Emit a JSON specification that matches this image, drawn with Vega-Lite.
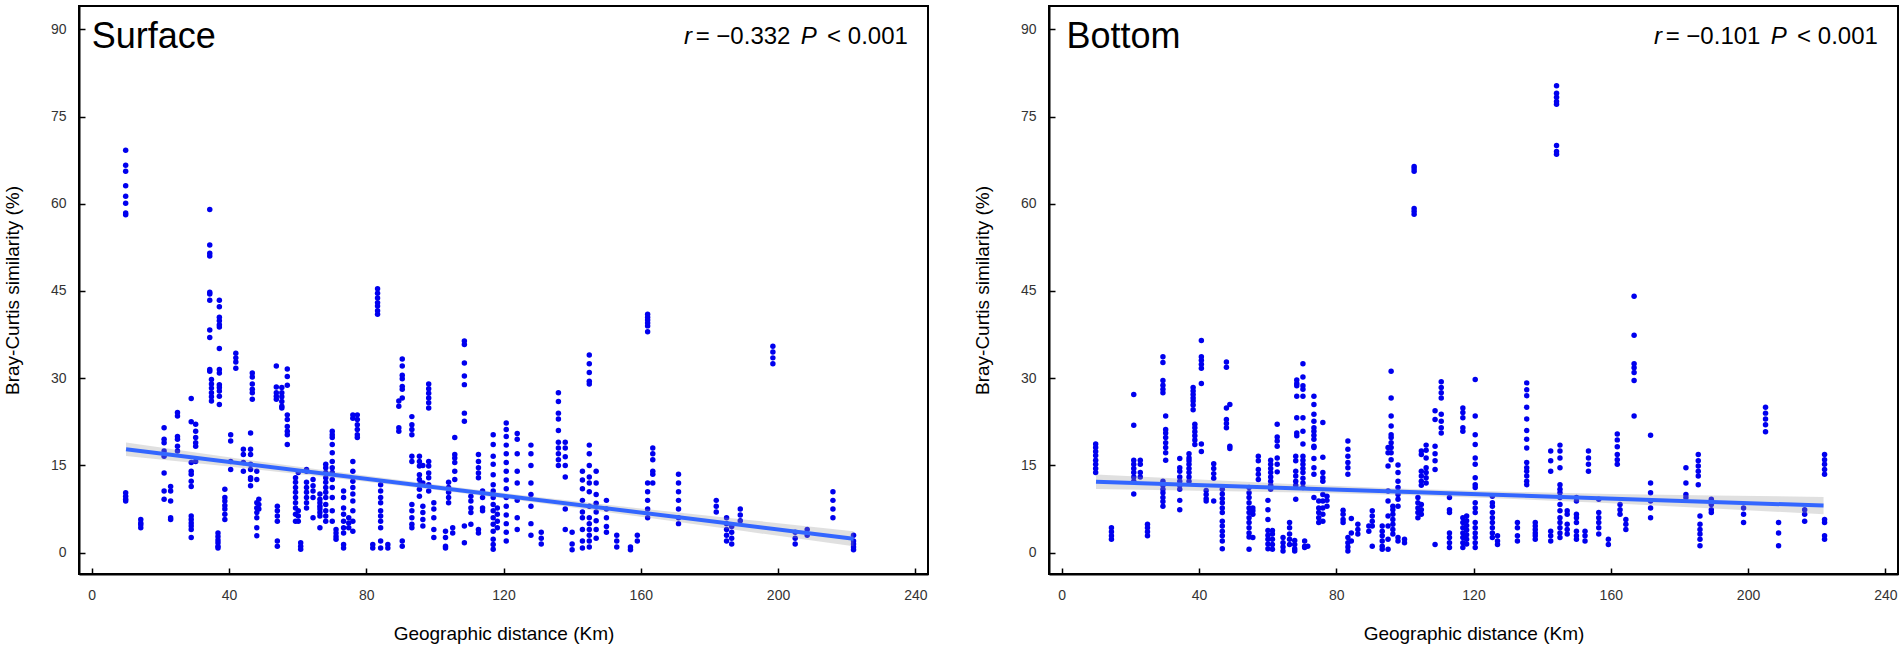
{
"$schema": "https://vega.github.io/schema/vega-lite/v6.json",
"padding": {"left": 2, "top": 5, "right": 5, "bottom": 0},
"spacing": 43,
"config": {
  "font": "Liberation Sans",
  "view": {"stroke": "black", "strokeWidth": 2},
  "axis": {"grid": false, "domainColor": "black", "domainWidth": 2, "tickColor": "black", "tickWidth": 1.5, "tickSize": -6, "labelFontSize": 14, "labelColor": "#333333", "labelFont": "Liberation Sans", "titleFont": "Liberation Sans", "titleFontSize": 19, "titleFontWeight": "normal", "titleColor": "black"},
  "axisX": {"labelPadding": 20, "titlePadding": 22},
  "axisY": {"labelPadding": 19, "titlePadding": 28}
},
"datasets": {
"surface": [
{"km":9.9,"sim":69.2},{"km":9.9,"sim":66.6},{"km":9.9,"sim":65.6},{"km":9.9,"sim":63.1},{"km":9.9,"sim":61.3},{"km":9.9,"sim":60.1},{"km":9.9,"sim":58.4},{"km":9.9,"sim":58.1},{"km":9.9,"sim":10.3},{"km":9.9,"sim":9.7},{"km":9.9,"sim":9.2},{"km":9.9,"sim":8.9},
{"km":14.3,"sim":5.7},{"km":14.3,"sim":5.1},{"km":14.3,"sim":4.8},{"km":14.3,"sim":4.3},
{"km":21.1,"sim":21.5},{"km":21.1,"sim":19.5},{"km":21.1,"sim":18.9},{"km":21.1,"sim":17.5},{"km":21.1,"sim":16.6},{"km":21.1,"sim":13.7},{"km":21.1,"sim":10.6},{"km":21.1,"sim":9.2},
{"km":23,"sim":11.4},{"km":23,"sim":10.6},{"km":23,"sim":8.9},{"km":23,"sim":6.0},{"km":23,"sim":5.7},
{"km":25,"sim":24.1},{"km":25,"sim":23.5},{"km":25,"sim":20.0},{"km":25,"sim":19.5},{"km":25,"sim":18.3},{"km":25,"sim":17.5},
{"km":29,"sim":26.5},{"km":29,"sim":22.5},{"km":29,"sim":15.5},{"km":29,"sim":14.0},{"km":29,"sim":13.5},{"km":29,"sim":12.3},{"km":29,"sim":11.4},{"km":29,"sim":6.3},{"km":29,"sim":5.7},{"km":29,"sim":5.1},{"km":29,"sim":4.6},{"km":29,"sim":4.0},{"km":29,"sim":2.6},
{"km":30.3,"sim":22.1},{"km":30.3,"sim":20.9},{"km":30.3,"sim":19.8},{"km":30.3,"sim":18.9},{"km":30.3,"sim":18.3},{"km":30.3,"sim":15.7},
{"km":34.4,"sim":59.0},{"km":34.4,"sim":52.9},{"km":34.4,"sim":51.5},{"km":34.4,"sim":51.0},{"km":34.4,"sim":44.8},{"km":34.4,"sim":44.5},{"km":34.4,"sim":43.4},{"km":34.4,"sim":38.3},{"km":34.4,"sim":37.0},{"km":34.4,"sim":31.5},{"km":34.4,"sim":31.2},
{"km":34.9,"sim":29.8},{"km":34.9,"sim":29.0},{"km":34.9,"sim":28.3},{"km":34.9,"sim":27.5},{"km":34.9,"sim":26.8},{"km":34.9,"sim":26.1},
{"km":36.8,"sim":3.4},{"km":36.8,"sim":2.8},{"km":36.8,"sim":2.2},{"km":36.8,"sim":1.7},{"km":36.8,"sim":1.1},{"km":36.8,"sim":0.8},
{"km":37.2,"sim":43.4},{"km":37.2,"sim":42.3},{"km":37.2,"sim":40.5},{"km":37.2,"sim":39.9},{"km":37.2,"sim":39.2},{"km":37.2,"sim":38.8},{"km":37.2,"sim":35.1},{"km":37.2,"sim":31.5},{"km":37.2,"sim":30.9},{"km":37.2,"sim":28.9},{"km":37.2,"sim":28.4},{"km":37.2,"sim":27.8},{"km":37.2,"sim":26.9},{"km":37.2,"sim":25.5},
{"km":38.8,"sim":10.9},{"km":38.8,"sim":9.5},{"km":38.8,"sim":8.9},{"km":38.8,"sim":8.1},{"km":38.8,"sim":7.5},{"km":38.8,"sim":6.6},{"km":38.8,"sim":5.7},
{"km":40.5,"sim":20.3},{"km":40.5,"sim":19.2},{"km":40.5,"sim":15.7},{"km":40.5,"sim":14.3},
{"km":42.0,"sim":34.3},{"km":42.0,"sim":33.5},{"km":42.0,"sim":32.8},{"km":42.0,"sim":31.7},
{"km":44.2,"sim":17.8},{"km":44.2,"sim":16.9},{"km":44.2,"sim":15.5},{"km":44.2,"sim":14.0},
{"km":46.3,"sim":20.6},{"km":46.3,"sim":17.8},{"km":46.3,"sim":16.9},{"km":46.3,"sim":15.2},{"km":46.3,"sim":14.3},{"km":46.3,"sim":12.9},{"km":46.3,"sim":12.6},{"km":46.3,"sim":11.5},
{"km":46.8,"sim":30.9},{"km":46.8,"sim":30.2},{"km":46.8,"sim":29.0},{"km":46.8,"sim":28.1},{"km":46.8,"sim":27.5},{"km":46.8,"sim":26.4},
{"km":48.1,"sim":14.0},{"km":48.1,"sim":12.6},{"km":48.1,"sim":8.6},{"km":48.1,"sim":7.7},{"km":48.1,"sim":6.9},{"km":48.1,"sim":6.0},{"km":48.1,"sim":4.3},{"km":48.1,"sim":2.9},
{"km":48.7,"sim":9.2},{"km":48.7,"sim":8.3},{"km":48.7,"sim":7.5},
{"km":53.8,"sim":32.1},{"km":53.8,"sim":28.5},{"km":53.8,"sim":27.5},{"km":53.8,"sim":26.9},{"km":53.8,"sim":26.4},
{"km":54.1,"sim":8.0},{"km":54.1,"sim":7.2},{"km":54.1,"sim":6.3},{"km":54.1,"sim":5.4},{"km":54.1,"sim":2.0},{"km":54.1,"sim":1.1},
{"km":55.4,"sim":28.4},{"km":55.4,"sim":27.5},{"km":55.4,"sim":26.8},{"km":55.4,"sim":26.0},{"km":55.4,"sim":25.2},{"km":55.4,"sim":24.9},
{"km":57.0,"sim":31.6},{"km":57.0,"sim":30.3},{"km":57.0,"sim":28.8},{"km":57.0,"sim":23.7},{"km":57.0,"sim":22.9},{"km":57.0,"sim":21.7},{"km":57.0,"sim":20.9},{"km":57.0,"sim":20.3},{"km":57.0,"sim":18.6},
{"km":59.4,"sim":12.9},{"km":59.4,"sim":12.1},{"km":59.4,"sim":11.2},{"km":59.4,"sim":10.4},{"km":59.4,"sim":9.5},{"km":59.4,"sim":8.6},{"km":59.4,"sim":7.7},{"km":59.4,"sim":6.6},{"km":59.4,"sim":5.4},
{"km":60.2,"sim":13.8},{"km":60.2,"sim":7.2},{"km":60.2,"sim":6.3},{"km":60.2,"sim":5.4},
{"km":60.9,"sim":1.7},{"km":60.9,"sim":1.1},{"km":60.9,"sim":0.6},
{"km":62.6,"sim":14.3},{"km":62.6,"sim":14.0},{"km":62.6,"sim":12.1},{"km":62.6,"sim":11.2},{"km":62.6,"sim":10.4},{"km":62.6,"sim":9.5},{"km":62.6,"sim":8.6},{"km":62.6,"sim":7.7},
{"km":64.5,"sim":12.6},{"km":64.5,"sim":11.5},{"km":64.5,"sim":10.6},{"km":64.5,"sim":9.5},{"km":64.5,"sim":6.0},
{"km":66.5,"sim":10.1},{"km":66.5,"sim":9.2},{"km":66.5,"sim":8.6},{"km":66.5,"sim":8.0},{"km":66.5,"sim":7.5},{"km":66.5,"sim":6.9},{"km":66.5,"sim":6.3},{"km":66.5,"sim":4.3},
{"km":68.2,"sim":15.2},{"km":68.2,"sim":14.6},{"km":68.2,"sim":13.8},{"km":68.2,"sim":12.9},{"km":68.2,"sim":12.1},{"km":68.2,"sim":11.2},{"km":68.2,"sim":10.4},{"km":68.2,"sim":9.5},{"km":68.2,"sim":8.3},{"km":68.2,"sim":7.2},{"km":68.2,"sim":6.3},{"km":68.2,"sim":5.4},
{"km":70.1,"sim":20.9},{"km":70.1,"sim":20.3},{"km":70.1,"sim":19.8},{"km":70.1,"sim":18.6},{"km":70.1,"sim":17.2},{"km":70.1,"sim":15.7},{"km":70.1,"sim":14.6},{"km":70.1,"sim":13.8},{"km":70.1,"sim":12.6},{"km":70.1,"sim":11.2},{"km":70.1,"sim":9.5},{"km":70.1,"sim":7.2},{"km":70.1,"sim":5.4},
{"km":71.2,"sim":4.0},{"km":71.2,"sim":3.4},{"km":71.2,"sim":2.8},{"km":71.2,"sim":2.3},
{"km":73.4,"sim":10.6},{"km":73.4,"sim":9.5},{"km":73.4,"sim":7.7},{"km":73.4,"sim":6.6},{"km":73.4,"sim":5.4},{"km":73.4,"sim":4.3},{"km":73.4,"sim":3.4},{"km":73.4,"sim":1.4},{"km":73.4,"sim":0.8},
{"km":74.9,"sim":6.0},{"km":74.9,"sim":5.1},{"km":74.9,"sim":4.3},
{"km":76.1,"sim":23.7},{"km":76.1,"sim":23.1},{"km":76.1,"sim":15.7},{"km":76.1,"sim":14.0},{"km":76.1,"sim":12.3},{"km":76.1,"sim":11.2},{"km":76.1,"sim":10.1},{"km":76.1,"sim":8.9},{"km":76.1,"sim":7.2},{"km":76.1,"sim":5.4},{"km":76.1,"sim":3.7},
{"km":77.4,"sim":23.7},{"km":77.4,"sim":22.9},{"km":77.4,"sim":22.0},{"km":77.4,"sim":21.2},{"km":77.4,"sim":20.3},{"km":77.4,"sim":19.8},
{"km":81.9,"sim":1.4},{"km":81.9,"sim":0.8},
{"km":83.3,"sim":45.4},{"km":83.3,"sim":44.6},{"km":83.3,"sim":43.8},{"km":83.3,"sim":43.0},{"km":83.3,"sim":42.4},{"km":83.3,"sim":41.6},{"km":83.3,"sim":41.0},
{"km":84.2,"sim":11.7},{"km":84.2,"sim":10.6},{"km":84.2,"sim":9.5},{"km":84.2,"sim":8.6},{"km":84.2,"sim":7.2},{"km":84.2,"sim":6.3},{"km":84.2,"sim":5.4},{"km":84.2,"sim":4.3},{"km":84.2,"sim":2.0},{"km":84.2,"sim":0.8},
{"km":86.3,"sim":1.4},{"km":86.3,"sim":0.8},
{"km":89.5,"sim":26.1},{"km":89.5,"sim":25.2},{"km":89.5,"sim":21.5},{"km":89.5,"sim":20.9},
{"km":90.5,"sim":33.3},{"km":90.5,"sim":32.1},{"km":90.5,"sim":30.5},{"km":90.5,"sim":29.9},{"km":90.5,"sim":28.6},{"km":90.5,"sim":28.1},{"km":90.5,"sim":26.6},{"km":90.5,"sim":2.0},{"km":90.5,"sim":1.1},
{"km":93.3,"sim":23.4},{"km":93.3,"sim":22.0},{"km":93.3,"sim":21.2},{"km":93.3,"sim":20.3},{"km":93.3,"sim":16.6},{"km":93.3,"sim":15.7},{"km":93.3,"sim":8.3},{"km":93.3,"sim":7.2},{"km":93.3,"sim":6.0},{"km":93.3,"sim":4.9},{"km":93.3,"sim":4.3},
{"km":95.5,"sim":16.6},{"km":95.5,"sim":15.7},{"km":95.5,"sim":14.9},{"km":95.5,"sim":13.4},{"km":95.5,"sim":12.6},{"km":95.5,"sim":11.7},{"km":95.5,"sim":10.9},{"km":95.5,"sim":9.7},
{"km":96.5,"sim":15.0},{"km":96.5,"sim":12.0},{"km":96.5,"sim":8.0},{"km":96.5,"sim":6.9},{"km":96.5,"sim":5.7},{"km":96.5,"sim":4.6},
{"km":98.2,"sim":29.0},{"km":98.2,"sim":28.2},{"km":98.2,"sim":27.4},{"km":98.2,"sim":26.6},{"km":98.2,"sim":25.8},{"km":98.2,"sim":24.9},{"km":98.2,"sim":15.7},{"km":98.2,"sim":14.9},{"km":98.2,"sim":13.7},{"km":98.2,"sim":12.9},{"km":98.2,"sim":11.7},{"km":98.2,"sim":10.6},
{"km":99.7,"sim":8.6},{"km":99.7,"sim":7.5},{"km":99.7,"sim":6.0},{"km":99.7,"sim":4.0},{"km":99.7,"sim":2.6},
{"km":103.1,"sim":3.7},{"km":103.1,"sim":2.6},{"km":103.1,"sim":1.1},{"km":103.1,"sim":0.8},
{"km":104,"sim":12.1},{"km":104,"sim":11.2},{"km":104,"sim":10.4},{"km":104,"sim":9.5},{"km":104,"sim":8.6},
{"km":105.2,"sim":4.3},{"km":105.2,"sim":3.4},
{"km":105.8,"sim":19.8},{"km":105.8,"sim":16.9},{"km":105.8,"sim":16.3},{"km":105.8,"sim":15.5},{"km":105.8,"sim":14.0},{"km":105.8,"sim":12.6},
{"km":108.6,"sim":36.4},{"km":108.6,"sim":35.8},{"km":108.6,"sim":32.6},{"km":108.6,"sim":30.4},{"km":108.6,"sim":28.9},{"km":108.6,"sim":24.0},{"km":108.6,"sim":22.6},{"km":108.6,"sim":4.6},{"km":108.6,"sim":1.7},
{"km":110.5,"sim":9.7},{"km":110.5,"sim":8.9},{"km":110.5,"sim":7.7},{"km":110.5,"sim":6.9},{"km":110.5,"sim":4.9},
{"km":112.7,"sim":16.9},{"km":112.7,"sim":15.7},{"km":112.7,"sim":14.6},{"km":112.7,"sim":13.7},{"km":112.7,"sim":12.9},{"km":112.7,"sim":4.0},{"km":112.7,"sim":3.4},
{"km":113.9,"sim":10.6},{"km":113.9,"sim":9.5},{"km":113.9,"sim":7.7},{"km":113.9,"sim":7.2},
{"km":117,"sim":20.3},{"km":117,"sim":18.6},{"km":117,"sim":16.6},{"km":117,"sim":15.2},{"km":117,"sim":13.4},{"km":117,"sim":11.7},{"km":117,"sim":10.6},{"km":117,"sim":9.5},{"km":117,"sim":8.3},{"km":117,"sim":7.2},{"km":117,"sim":6.0},{"km":117,"sim":4.9},{"km":117,"sim":3.7},{"km":117,"sim":2.3},{"km":117,"sim":1.4},{"km":117,"sim":0.6},
{"km":118.2,"sim":7.7},{"km":118.2,"sim":6.6},{"km":118.2,"sim":5.4},{"km":118.2,"sim":4.3},
{"km":120.8,"sim":22.3},{"km":120.8,"sim":21.2},{"km":120.8,"sim":20},{"km":120.8,"sim":18.5},{"km":120.8,"sim":17},{"km":120.8,"sim":15.5},{"km":120.8,"sim":14},{"km":120.8,"sim":12.5},{"km":120.8,"sim":11},{"km":120.8,"sim":9.5},{"km":120.8,"sim":8},{"km":120.8,"sim":6.5},{"km":120.8,"sim":5},{"km":120.8,"sim":3.5},{"km":120.8,"sim":2},
{"km":124,"sim":20.5},{"km":124,"sim":19.5},{"km":124,"sim":17},{"km":124,"sim":14},{"km":124,"sim":12},{"km":124,"sim":9},{"km":124,"sim":6},{"km":124,"sim":4},
{"km":128,"sim":18.5},{"km":128,"sim":17},{"km":128,"sim":15},{"km":128,"sim":12},{"km":128,"sim":10},{"km":128,"sim":8},{"km":128,"sim":5},{"km":128,"sim":3},
{"km":131,"sim":3.5},{"km":131,"sim":2.5},{"km":131,"sim":1.5},
{"km":136,"sim":27.5},{"km":136,"sim":26},{"km":136,"sim":24},{"km":136,"sim":23},{"km":136,"sim":21},{"km":136,"sim":19},{"km":136,"sim":18},{"km":136,"sim":17},{"km":136,"sim":16},{"km":136,"sim":15},
{"km":138,"sim":19},{"km":138,"sim":18},{"km":138,"sim":16.5},{"km":138,"sim":15},{"km":138,"sim":13},{"km":138,"sim":7.5},{"km":138,"sim":4},
{"km":140,"sim":3.5},{"km":140,"sim":1.5},{"km":140,"sim":0.5},
{"km":143,"sim":14},{"km":143,"sim":12.5},{"km":143,"sim":11},{"km":143,"sim":9},{"km":143,"sim":7},{"km":143,"sim":6},{"km":143,"sim":4},{"km":143,"sim":2},{"km":143,"sim":0.8},
{"km":145,"sim":34},{"km":145,"sim":32.5},{"km":145,"sim":31},{"km":145,"sim":29.5},{"km":145,"sim":29},{"km":145,"sim":18.5},{"km":145,"sim":17},{"km":145,"sim":15},{"km":145,"sim":13},{"km":145,"sim":12},{"km":145,"sim":10.5},{"km":145,"sim":8},{"km":145,"sim":6},{"km":145,"sim":5},{"km":145,"sim":4},{"km":145,"sim":3},{"km":145,"sim":2},{"km":145,"sim":1},
{"km":147,"sim":14},{"km":147,"sim":12},{"km":147,"sim":10},{"km":147,"sim":8.5},{"km":147,"sim":7},{"km":147,"sim":5.5},{"km":147,"sim":4},{"km":147,"sim":2.5},
{"km":150,"sim":9},{"km":150,"sim":7.5},{"km":150,"sim":6},{"km":150,"sim":4.5},{"km":150,"sim":3.5},
{"km":153,"sim":3},{"km":153,"sim":2},{"km":153,"sim":1},
{"km":157,"sim":1},{"km":157,"sim":0.5},
{"km":159,"sim":3},{"km":159,"sim":2},
{"km":162,"sim":41},{"km":162,"sim":40.5},{"km":162,"sim":40},{"km":162,"sim":39.5},{"km":162,"sim":39},{"km":162,"sim":38},{"km":162,"sim":12},{"km":162,"sim":10.5},{"km":162,"sim":9},{"km":162,"sim":7.5},{"km":162,"sim":6},
{"km":163.5,"sim":18},{"km":163.5,"sim":17},{"km":163.5,"sim":16},{"km":163.5,"sim":14},{"km":163.5,"sim":13.5},{"km":163.5,"sim":12},
{"km":171,"sim":13.5},{"km":171,"sim":12},{"km":171,"sim":10.5},{"km":171,"sim":9},{"km":171,"sim":7.5},{"km":171,"sim":6},{"km":171,"sim":5},
{"km":182,"sim":9},{"km":182,"sim":8},{"km":182,"sim":7},
{"km":185,"sim":6},{"km":185,"sim":5},{"km":185,"sim":4},{"km":185,"sim":3},{"km":185,"sim":2},
{"km":186.5,"sim":4.5},{"km":186.5,"sim":3.5},{"km":186.5,"sim":2.5},{"km":186.5,"sim":1.5},
{"km":189,"sim":7.5},{"km":189,"sim":6.5},{"km":189,"sim":5.5},
{"km":198.5,"sim":35.5},{"km":198.5,"sim":34.5},{"km":198.5,"sim":33.5},{"km":198.5,"sim":32.5},
{"km":205,"sim":3.5},{"km":205,"sim":2.5},{"km":205,"sim":1.5},
{"km":208.5,"sim":4},{"km":208.5,"sim":3},
{"km":216,"sim":10.5},{"km":216,"sim":9},{"km":216,"sim":7.5},{"km":216,"sim":6},
{"km":222,"sim":3},{"km":222,"sim":2},{"km":222,"sim":1.5},{"km":222,"sim":1},{"km":222,"sim":0.5}
],
"bottom": [
{"km":9.9,"sim":18.7},{"km":9.9,"sim":18.1},{"km":9.9,"sim":17.4},{"km":9.9,"sim":16.7},{"km":9.9,"sim":15.9},{"km":9.9,"sim":15.2},{"km":9.9,"sim":14.5},{"km":9.9,"sim":13.8},
{"km":14.5,"sim":4.3},{"km":14.5,"sim":3.6},{"km":14.5,"sim":2.9},{"km":14.5,"sim":2.3},
{"km":21,"sim":27.2},{"km":21,"sim":21.9},{"km":21,"sim":15.9},{"km":21,"sim":15.2},{"km":21,"sim":14.5},{"km":21,"sim":13.8},{"km":21,"sim":13.0},{"km":21,"sim":12.3},{"km":21,"sim":10.1},
{"km":22.9,"sim":15.9},{"km":22.9,"sim":15.2},{"km":22.9,"sim":13.8},{"km":22.9,"sim":13.0},
{"km":25,"sim":4.9},{"km":25,"sim":4.3},{"km":25,"sim":3.6},{"km":25,"sim":2.9},
{"km":29.5,"sim":33.7},{"km":29.5,"sim":32.7},{"km":29.5,"sim":29.6},{"km":29.5,"sim":28.8},{"km":29.5,"sim":28.1},{"km":29.5,"sim":27.5},{"km":29.5,"sim":12.3},{"km":29.5,"sim":11.6},{"km":29.5,"sim":10.9},{"km":29.5,"sim":10.3},{"km":29.5,"sim":9.5},{"km":29.5,"sim":8.8},{"km":29.5,"sim":8.0},
{"km":30.3,"sim":23.5},{"km":30.3,"sim":21.2},{"km":30.3,"sim":20.6},{"km":30.3,"sim":19.8},{"km":30.3,"sim":18.9},{"km":30.3,"sim":18.1},{"km":30.3,"sim":17.2},{"km":30.3,"sim":15.9},
{"km":34.4,"sim":16.2},{"km":34.4,"sim":14.6},{"km":34.4,"sim":14.0},{"km":34.4,"sim":13.0},{"km":34.4,"sim":12.3},{"km":34.4,"sim":11.6},{"km":34.4,"sim":10.9},{"km":34.4,"sim":9.0},{"km":34.4,"sim":7.4},
{"km":37.1,"sim":17.0},{"km":37.1,"sim":16.3},{"km":37.1,"sim":15.8},{"km":37.1,"sim":15.2},{"km":37.1,"sim":14.5},{"km":37.1,"sim":13.8},{"km":37.1,"sim":13.0},{"km":37.1,"sim":12.3},
{"km":38.3,"sim":28.4},{"km":38.3,"sim":27.8},{"km":38.3,"sim":27.2},{"km":38.3,"sim":26.6},{"km":38.3,"sim":26.1},{"km":38.3,"sim":25.4},{"km":38.3,"sim":24.6},
{"km":38.8,"sim":22.1},{"km":38.8,"sim":21.5},{"km":38.8,"sim":20.8},{"km":38.8,"sim":20.1},{"km":38.8,"sim":19.4},{"km":38.8,"sim":18.6},
{"km":40.7,"sim":36.5},{"km":40.7,"sim":33.7},{"km":40.7,"sim":33.1},{"km":40.7,"sim":32.4},{"km":40.7,"sim":31.7},{"km":40.7,"sim":29.1},{"km":40.7,"sim":18.7},{"km":40.7,"sim":17.4},
{"km":42.1,"sim":10.7},{"km":42.1,"sim":10.0},{"km":42.1,"sim":9.3},{"km":42.1,"sim":8.9},
{"km":44.3,"sim":15.3},{"km":44.3,"sim":14.5},{"km":44.3,"sim":13.6},{"km":44.3,"sim":12.8},{"km":44.3,"sim":8.9},
{"km":46.8,"sim":10.9},{"km":46.8,"sim":10.1},{"km":46.8,"sim":9.3},{"km":46.8,"sim":8.6},{"km":46.8,"sim":7.7},{"km":46.8,"sim":6.9},{"km":46.8,"sim":5.4},{"km":46.8,"sim":4.6},{"km":46.8,"sim":3.7},{"km":46.8,"sim":2.9},{"km":46.8,"sim":2.0},{"km":46.8,"sim":0.7},
{"km":48,"sim":32.8},{"km":48,"sim":31.9},{"km":48,"sim":24.9},{"km":48,"sim":22.9},{"km":48,"sim":22.2},{"km":48,"sim":21.5},
{"km":49,"sim":25.5},{"km":49,"sim":18.3},{"km":49,"sim":17.9},
{"km":54.6,"sim":11.2},{"km":54.6,"sim":10.3},{"km":54.6,"sim":9.5},{"km":54.6,"sim":8.6},{"km":54.6,"sim":7.7},{"km":54.6,"sim":6.9},{"km":54.6,"sim":6.0},{"km":54.6,"sim":5.2},{"km":54.6,"sim":4.3},{"km":54.6,"sim":3.4},{"km":54.6,"sim":2.7},{"km":54.6,"sim":0.6},
{"km":55.7,"sim":7.7},{"km":55.7,"sim":7.2},{"km":55.7,"sim":6.6},{"km":55.7,"sim":2.6},
{"km":57.3,"sim":16.6},{"km":57.3,"sim":15.8},{"km":57.3,"sim":14.3},{"km":57.3,"sim":13.5},{"km":57.3,"sim":12.6},
{"km":60.1,"sim":9.0},{"km":60.1,"sim":7.4},{"km":60.1,"sim":5.7},{"km":60.1,"sim":3.8},{"km":60.1,"sim":3.0},{"km":60.1,"sim":2.3},{"km":60.1,"sim":1.5},{"km":60.1,"sim":0.7},
{"km":60.9,"sim":15.9},{"km":60.9,"sim":15.2},{"km":60.9,"sim":14.5},{"km":60.9,"sim":13.8},{"km":60.9,"sim":13.0},{"km":60.9,"sim":12.3},{"km":60.9,"sim":11.6},{"km":60.9,"sim":10.9},
{"km":61.4,"sim":3.8},{"km":61.4,"sim":3.2},{"km":61.4,"sim":2.3},{"km":61.4,"sim":1.4},{"km":61.4,"sim":0.6},
{"km":62.8,"sim":22.1},{"km":62.8,"sim":19.9},{"km":62.8,"sim":19.2},{"km":62.8,"sim":18.3},{"km":62.8,"sim":16.3},{"km":62.8,"sim":15.2},{"km":62.8,"sim":13.9},
{"km":64.5,"sim":2.6},{"km":64.5,"sim":1.7},{"km":64.5,"sim":1.0},{"km":64.5,"sim":0.3},
{"km":66.4,"sim":5.2},{"km":66.4,"sim":4.3},{"km":66.4,"sim":3.2},{"km":66.4,"sim":2.3},{"km":66.4,"sim":1.4},
{"km":67.9,"sim":2.1},{"km":67.9,"sim":1.4},{"km":67.9,"sim":0.7},{"km":67.9,"sim":0.3},
{"km":68.2,"sim":16.6},{"km":68.2,"sim":15.8},{"km":68.2,"sim":14.0},{"km":68.2,"sim":13.2},{"km":68.2,"sim":12.3},{"km":68.2,"sim":11.6},{"km":68.2,"sim":9.2},
{"km":68.5,"sim":29.7},{"km":68.5,"sim":29.1},{"km":68.5,"sim":28.7},{"km":68.5,"sim":26.9},{"km":68.5,"sim":23.2},{"km":68.5,"sim":20.6},{"km":68.5,"sim":20.1},
{"km":70.3,"sim":32.5},{"km":70.3,"sim":30.2},{"km":70.3,"sim":28.7},{"km":70.3,"sim":28.1},{"km":70.3,"sim":26.9},{"km":70.3,"sim":23.2},{"km":70.3,"sim":20.9},{"km":70.3,"sim":18.7},{"km":70.3,"sim":16.6},{"km":70.3,"sim":15.9},{"km":70.3,"sim":15.2},{"km":70.3,"sim":14.5},{"km":70.3,"sim":13.8},{"km":70.3,"sim":12.8},{"km":70.3,"sim":12.0},{"km":70.3,"sim":11.2},
{"km":70.8,"sim":2.0},{"km":70.8,"sim":1.1},{"km":70.8,"sim":0.9},{"km":71.7,"sim":1.1},
{"km":73.5,"sim":26.9},{"km":73.5,"sim":25.5},{"km":73.5,"sim":23.8},{"km":73.5,"sim":22.6},{"km":73.5,"sim":21.5},{"km":73.5,"sim":20.9},{"km":73.5,"sim":20.2},{"km":73.5,"sim":19.5},{"km":73.5,"sim":18.3},{"km":73.5,"sim":18.1},{"km":73.5,"sim":16.2},{"km":73.5,"sim":14.6},{"km":73.5,"sim":13.5},{"km":73.5,"sim":9.5},
{"km":74.9,"sim":8.9},{"km":74.9,"sim":7.7},{"km":74.9,"sim":6.9},{"km":74.9,"sim":6.0},{"km":74.9,"sim":5.2},
{"km":76.1,"sim":22.4},{"km":76.1,"sim":16.4},{"km":76.1,"sim":13.8},{"km":76.1,"sim":12.9},{"km":76.1,"sim":12.3},{"km":76.1,"sim":10.0},{"km":76.1,"sim":8.9},{"km":76.1,"sim":7.7},{"km":76.1,"sim":6.6},{"km":76.1,"sim":5.4},
{"km":77.3,"sim":9.7},{"km":77.3,"sim":9.0},{"km":77.3,"sim":8.0},
{"km":82,"sim":7.3},{"km":82,"sim":6.6},{"km":82,"sim":5.7},{"km":82,"sim":5.2},
{"km":83.4,"sim":19.2},{"km":83.4,"sim":17.8},{"km":83.4,"sim":16.6},{"km":83.4,"sim":15.5},{"km":83.4,"sim":14.6},{"km":83.4,"sim":13.5},{"km":83.4,"sim":2.6},{"km":83.4,"sim":1.7},{"km":83.4,"sim":1.0},{"km":83.4,"sim":0.3},
{"km":84.4,"sim":5.9},{"km":84.4,"sim":3.4},{"km":84.4,"sim":2.0},
{"km":86.3,"sim":4.9},{"km":86.3,"sim":4.0},{"km":86.3,"sim":3.2},
{"km":89.5,"sim":4.6},{"km":89.5,"sim":3.7},
{"km":90.5,"sim":7.2},{"km":90.5,"sim":6.3},{"km":90.5,"sim":5.4},{"km":90.5,"sim":4.6},{"km":90.5,"sim":1.1},
{"km":93.4,"sim":4.6},{"km":93.4,"sim":3.7},{"km":93.4,"sim":2.9},{"km":93.4,"sim":2.0},{"km":93.4,"sim":1.1},{"km":93.4,"sim":0.6},
{"km":95.1,"sim":18.1},{"km":95.1,"sim":17.2},{"km":95.1,"sim":14.9},{"km":95.1,"sim":10.6},{"km":95.1,"sim":8.9},{"km":95.1,"sim":6.3},{"km":95.1,"sim":4.6},{"km":95.1,"sim":2.3},{"km":95.1,"sim":0.6},
{"km":96,"sim":31.2},{"km":96,"sim":26.6},{"km":96,"sim":23.5},{"km":96,"sim":21.8},{"km":96,"sim":20.3},{"km":96,"sim":19.8},{"km":96,"sim":18.9},{"km":96,"sim":18.1},{"km":96,"sim":17.2},{"km":96,"sim":16.0},
{"km":96.5,"sim":8.0},{"km":96.5,"sim":7.4},{"km":96.5,"sim":6.6},{"km":96.5,"sim":5.7},{"km":96.5,"sim":4.9},{"km":96.5,"sim":4.0},{"km":96.5,"sim":3.2},
{"km":98,"sim":15.1},{"km":98,"sim":13.8},{"km":98,"sim":12.3},{"km":98,"sim":11.2},{"km":98,"sim":10.0},{"km":98,"sim":9.2},{"km":98,"sim":8.0},{"km":98,"sim":2.6},{"km":98,"sim":2.0},
{"km":99.9,"sim":2.3},{"km":99.9,"sim":1.7},
{"km":102.7,"sim":66.4},{"km":102.7,"sim":66.0},{"km":102.7,"sim":65.6},{"km":102.7,"sim":59.2},{"km":102.7,"sim":58.7},{"km":102.7,"sim":58.2},
{"km":103.8,"sim":9.5},{"km":103.8,"sim":8.6},{"km":103.8,"sim":7.7},{"km":103.8,"sim":6.9},{"km":103.8,"sim":6.0},
{"km":104.8,"sim":17.5},{"km":104.8,"sim":16.9},{"km":104.8,"sim":14.0},{"km":104.8,"sim":13.2},{"km":104.8,"sim":12.3},{"km":104.8,"sim":11.6},{"km":104.8,"sim":8.3},{"km":104.8,"sim":7.4},{"km":104.8,"sim":6.6},
{"km":106.2,"sim":18.5},{"km":106.2,"sim":17.6},{"km":106.2,"sim":16.3},{"km":106.2,"sim":14.6},{"km":106.2,"sim":13.8},{"km":106.2,"sim":12.9},{"km":106.2,"sim":12.0},
{"km":108.8,"sim":24.4},{"km":108.8,"sim":22.9},{"km":108.8,"sim":18.3},{"km":108.8,"sim":17.0},{"km":108.8,"sim":15.8},{"km":108.8,"sim":14.3},{"km":108.8,"sim":1.4},
{"km":110.6,"sim":29.4},{"km":110.6,"sim":28.4},{"km":110.6,"sim":27.5},{"km":110.6,"sim":26.6},{"km":110.6,"sim":23.8},{"km":110.6,"sim":22.6},{"km":110.6,"sim":21.5},{"km":110.6,"sim":20.6},
{"km":113,"sim":9.5},{"km":113,"sim":7.4},{"km":113,"sim":6.9},{"km":113,"sim":3.4},{"km":113,"sim":2.6},{"km":113,"sim":1.7},{"km":113,"sim":0.9},
{"km":116.9,"sim":24.9},{"km":116.9,"sim":24.1},{"km":116.9,"sim":23.2},{"km":116.9,"sim":21.5},{"km":116.9,"sim":20.9},{"km":116.9,"sim":6.0},{"km":116.9,"sim":5.2},{"km":116.9,"sim":4.3},{"km":116.9,"sim":3.4},{"km":116.9,"sim":2.6},{"km":116.9,"sim":1.7},{"km":116.9,"sim":0.9},
{"km":118,"sim":6.3},{"km":118,"sim":5.5},{"km":118,"sim":4.7},{"km":118,"sim":3.9},{"km":118,"sim":3.1},{"km":118,"sim":2.3},{"km":118,"sim":1.5},
{"km":120.5,"sim":29.8},{"km":120.5,"sim":23.5},{"km":120.5,"sim":20.3},{"km":120.5,"sim":18.6},{"km":120.5,"sim":16.3},{"km":120.5,"sim":15.2},{"km":120.5,"sim":12.9},{"km":120.5,"sim":11.7},{"km":120.5,"sim":11.2},{"km":120.5,"sim":8.6},{"km":120.5,"sim":7.7},{"km":120.5,"sim":6.9},{"km":120.5,"sim":5.2},{"km":120.5,"sim":4.3},{"km":120.5,"sim":3.4},{"km":120.5,"sim":2.6},{"km":120.5,"sim":1.7},{"km":120.5,"sim":0.9},
{"km":125.5,"sim":9.7},{"km":125.5,"sim":8.6},{"km":125.5,"sim":8.0},{"km":125.5,"sim":6.9},{"km":125.5,"sim":6.0},{"km":125.5,"sim":5.2},{"km":125.5,"sim":4.3},{"km":125.5,"sim":3.4},{"km":125.5,"sim":2.6},
{"km":127,"sim":2.9},{"km":127,"sim":2.0},{"km":127,"sim":1.4},
{"km":132.8,"sim":5.2},{"km":132.8,"sim":4.3},{"km":132.8,"sim":2.9},{"km":132.8,"sim":2.0},
{"km":135.5,"sim":29.2},{"km":135.5,"sim":28},{"km":135.5,"sim":27},{"km":135.5,"sim":25},{"km":135.5,"sim":23},{"km":135.5,"sim":21},{"km":135.5,"sim":19.5},{"km":135.5,"sim":18},{"km":135.5,"sim":15.5},{"km":135.5,"sim":14.6},{"km":135.5,"sim":14.0},{"km":135.5,"sim":13.2},{"km":135.5,"sim":12.3},{"km":135.5,"sim":11.7},
{"km":138,"sim":5.2},{"km":138,"sim":4.6},{"km":138,"sim":4.0},{"km":138,"sim":3.4},{"km":138,"sim":2.9},{"km":138,"sim":2.3},
{"km":142.5,"sim":17.5},{"km":142.5,"sim":15.8},{"km":142.5,"sim":14.0},{"km":142.5,"sim":3.7},{"km":142.5,"sim":2.9},{"km":142.5,"sim":2.0},
{"km":144.2,"sim":80.3},{"km":144.2,"sim":79.0},{"km":144.2,"sim":78.3},{"km":144.2,"sim":77.6},{"km":144.2,"sim":77.1},{"km":144.2,"sim":70.0},{"km":144.2,"sim":69.0},{"km":144.2,"sim":68.5},
{"km":145.2,"sim":18.5},{"km":145.2,"sim":17.5},{"km":145.2,"sim":16.3},{"km":145.2,"sim":14.6},{"km":145.2,"sim":11.7},{"km":145.2,"sim":10.9},{"km":145.2,"sim":10.3},{"km":145.2,"sim":9.5},{"km":145.2,"sim":8.3},{"km":145.2,"sim":7.2},{"km":145.2,"sim":6.0},{"km":145.2,"sim":5.2},{"km":145.2,"sim":4.3},{"km":145.2,"sim":3.4},{"km":145.2,"sim":2.6},
{"km":147.3,"sim":7.2},{"km":147.3,"sim":6.6},{"km":147.3,"sim":4.9},{"km":147.3,"sim":4.0},{"km":147.3,"sim":3.2},
{"km":150,"sim":9.5},{"km":150,"sim":8.9},{"km":150,"sim":6.6},{"km":150,"sim":6.0},{"km":150,"sim":5.2},{"km":150,"sim":3.7},{"km":150,"sim":2.9},{"km":150,"sim":2.3},
{"km":152.5,"sim":3.7},{"km":152.5,"sim":2.9},{"km":152.5,"sim":2.0},
{"km":153.5,"sim":17.5},{"km":153.5,"sim":16.3},{"km":153.5,"sim":15.2},{"km":153.5,"sim":14.0},
{"km":156.5,"sim":9.2},{"km":156.5,"sim":6.9},{"km":156.5,"sim":6.0},{"km":156.5,"sim":5.2},{"km":156.5,"sim":4.3},{"km":156.5,"sim":3.2},
{"km":159.3,"sim":2.3},{"km":159.3,"sim":1.4},
{"km":161.9,"sim":20.4},{"km":161.9,"sim":19.4},{"km":161.9,"sim":18.2},{"km":161.9,"sim":16.9},{"km":161.9,"sim":16.0},{"km":161.9,"sim":15.2},
{"km":162.7,"sim":8.3},{"km":162.7,"sim":7.4},{"km":162.7,"sim":6.6},
{"km":164.4,"sim":5.7},{"km":164.4,"sim":4.9},{"km":164.4,"sim":4.0},
{"km":166.8,"sim":44.1},{"km":166.8,"sim":37.4},{"km":166.8,"sim":32.5},{"km":166.8,"sim":31.8},{"km":166.8,"sim":31.0},{"km":166.8,"sim":29.6},{"km":166.8,"sim":23.5},
{"km":171.6,"sim":20.2},{"km":171.6,"sim":12.0},{"km":171.6,"sim":10.3},{"km":171.6,"sim":8.9},{"km":171.6,"sim":7.7},{"km":171.6,"sim":6.0},
{"km":181.9,"sim":14.6},{"km":181.9,"sim":12.0},{"km":181.9,"sim":10.0},{"km":181.9,"sim":9.5},
{"km":185.5,"sim":16.9},{"km":185.5,"sim":15.8},{"km":185.5,"sim":14.9},{"km":185.5,"sim":14.0},{"km":185.5,"sim":13.2},{"km":185.5,"sim":11.7},
{"km":186,"sim":6.3},{"km":186,"sim":4.9},{"km":186,"sim":4.0},{"km":186,"sim":3.2},{"km":186,"sim":2.3},{"km":186,"sim":1.2},
{"km":189.3,"sim":9.2},{"km":189.3,"sim":8.3},{"km":189.3,"sim":7.4},{"km":189.3,"sim":6.9},
{"km":198.7,"sim":7.7},{"km":198.7,"sim":6.6},{"km":198.7,"sim":5.2},
{"km":205.1,"sim":25},{"km":205.1,"sim":24},{"km":205.1,"sim":23},{"km":205.1,"sim":22},{"km":205.1,"sim":20.8},
{"km":208.9,"sim":5.2},{"km":208.9,"sim":3.4},{"km":208.9,"sim":1.2},
{"km":216.5,"sim":7.4},{"km":216.5,"sim":6.6},{"km":216.5,"sim":5.4},
{"km":222.3,"sim":16.9},{"km":222.3,"sim":16.0},{"km":222.3,"sim":15.2},{"km":222.3,"sim":14.3},{"km":222.3,"sim":13.5},{"km":222.3,"sim":5.7},{"km":222.3,"sim":5.2},{"km":222.3,"sim":2.9},{"km":222.3,"sim":2.3}
],
"fit": [
{"panel":"S","km":10,"sim":17.8},{"panel":"S","km":222,"sim":2.4},
{"panel":"B","km":10,"sim":12.2},{"panel":"B","km":222,"sim":8.1}
],
"band": [
{"panel":"S","km":10,"sim":16.65,"hi":18.95},{"panel":"S","km":40,"sim":14.82,"hi":16.42},{"panel":"S","km":70,"sim":12.89,"hi":13.99},{"panel":"S","km":100,"sim":10.81,"hi":11.71},{"panel":"S","km":130,"sim":8.58,"hi":9.58},{"panel":"S","km":160,"sim":6.2,"hi":7.6},{"panel":"S","km":190,"sim":3.72,"hi":5.72},{"panel":"S","km":222,"sim":1.1,"hi":3.7},
{"panel":"B","km":10,"sim":10.95,"hi":13.45},{"panel":"B","km":40,"sim":10.67,"hi":12.57},{"panel":"B","km":70,"sim":10.34,"hi":11.74},{"panel":"B","km":100,"sim":9.91,"hi":11.01},{"panel":"B","km":130,"sim":9.28,"hi":10.48},{"panel":"B","km":160,"sim":8.5,"hi":10.1},{"panel":"B","km":190,"sim":7.62,"hi":9.82},{"panel":"B","km":222,"sim":6.6,"hi":9.6}
],
"labels": [
{"panel":"S","kind":"title","km":0,"sim":86.7,"t":"Surface"},
{"panel":"S","kind":"it","km":172.6,"sim":87.4,"t":"r"},
{"panel":"S","kind":"rm","km":176.0,"sim":87.4,"t":"= −0.332"},
{"panel":"S","kind":"it","km":206.6,"sim":87.4,"t":"P"},
{"panel":"S","kind":"rm","km":214.3,"sim":87.4,"t":"< 0.001"},
{"panel":"B","kind":"title","km":1.4,"sim":86.7,"t":"Bottom"},
{"panel":"B","kind":"it","km":172.6,"sim":87.4,"t":"r"},
{"panel":"B","kind":"rm","km":176.0,"sim":87.4,"t":"= −0.101"},
{"panel":"B","kind":"it","km":206.6,"sim":87.4,"t":"P"},
{"panel":"B","kind":"rm","km":214.3,"sim":87.4,"t":"< 0.001"}
]
},
"hconcat": [
{
"width": 849, "height": 568,
"encoding": {
  "x": {"field": "km", "type": "quantitative", "scale": {"domain": [-3.7, 243.7], "nice": false, "zero": false}, "axis": {"values": [0,40,80,120,160,200,240], "title": "Geographic distance (Km)"}},
  "y": {"field": "sim", "type": "quantitative", "scale": {"domain": [-3.66, 94], "nice": false, "zero": false}, "axis": {"values": [0,15,30,45,60,75,90], "title": "Bray-Curtis similarity (%)"}}
},
"layer": [
  {"data": {"name": "surface"}, "mark": {"type": "circle", "size": 30, "opacity": 1, "color": "#0000EE"}},
  {"data": {"name": "band"}, "transform": [{"filter": "datum.panel == 'S'"}], "mark": {"type": "area", "color": "#999999", "opacity": 0.3}, "encoding": {"y2": {"field": "hi"}}},
  {"data": {"name": "fit"}, "transform": [{"filter": "datum.panel == 'S'"}], "mark": {"type": "line", "color": "#3366FF", "strokeWidth": 4}},
  {"data": {"name": "labels"}, "transform": [{"filter": "datum.panel == 'S' && datum.kind == 'title'"}], "mark": {"type": "text", "fontSize": 36, "align": "left", "baseline": "alphabetic", "color": "black", "font": "Liberation Sans"}, "encoding": {"text": {"field": "t"}}},
  {"data": {"name": "labels"}, "transform": [{"filter": "datum.panel == 'S' && datum.kind == 'it'"}], "mark": {"type": "text", "fontSize": 24, "fontStyle": "italic", "align": "left", "baseline": "alphabetic", "color": "black", "font": "Liberation Sans"}, "encoding": {"text": {"field": "t"}}},
  {"data": {"name": "labels"}, "transform": [{"filter": "datum.panel == 'S' && datum.kind == 'rm'"}], "mark": {"type": "text", "fontSize": 24, "align": "left", "baseline": "alphabetic", "color": "black", "font": "Liberation Sans"}, "encoding": {"text": {"field": "t"}}}
]
},
{
"width": 849, "height": 568,
"encoding": {
  "x": {"field": "km", "type": "quantitative", "scale": {"domain": [-3.7, 243.7], "nice": false, "zero": false}, "axis": {"values": [0,40,80,120,160,200,240], "title": "Geographic distance (Km)"}},
  "y": {"field": "sim", "type": "quantitative", "scale": {"domain": [-3.66, 94], "nice": false, "zero": false}, "axis": {"values": [0,15,30,45,60,75,90], "title": "Bray-Curtis similarity (%)"}}
},
"layer": [
  {"data": {"name": "bottom"}, "mark": {"type": "circle", "size": 30, "opacity": 1, "color": "#0000EE"}},
  {"data": {"name": "band"}, "transform": [{"filter": "datum.panel == 'B'"}], "mark": {"type": "area", "color": "#999999", "opacity": 0.3}, "encoding": {"y2": {"field": "hi"}}},
  {"data": {"name": "fit"}, "transform": [{"filter": "datum.panel == 'B'"}], "mark": {"type": "line", "color": "#3366FF", "strokeWidth": 4}},
  {"data": {"name": "labels"}, "transform": [{"filter": "datum.panel == 'B' && datum.kind == 'title'"}], "mark": {"type": "text", "fontSize": 36, "align": "left", "baseline": "alphabetic", "color": "black", "font": "Liberation Sans"}, "encoding": {"text": {"field": "t"}}},
  {"data": {"name": "labels"}, "transform": [{"filter": "datum.panel == 'B' && datum.kind == 'it'"}], "mark": {"type": "text", "fontSize": 24, "fontStyle": "italic", "align": "left", "baseline": "alphabetic", "color": "black", "font": "Liberation Sans"}, "encoding": {"text": {"field": "t"}}},
  {"data": {"name": "labels"}, "transform": [{"filter": "datum.panel == 'B' && datum.kind == 'rm'"}], "mark": {"type": "text", "fontSize": 24, "align": "left", "baseline": "alphabetic", "color": "black", "font": "Liberation Sans"}, "encoding": {"text": {"field": "t"}}}
]
}
]
}
